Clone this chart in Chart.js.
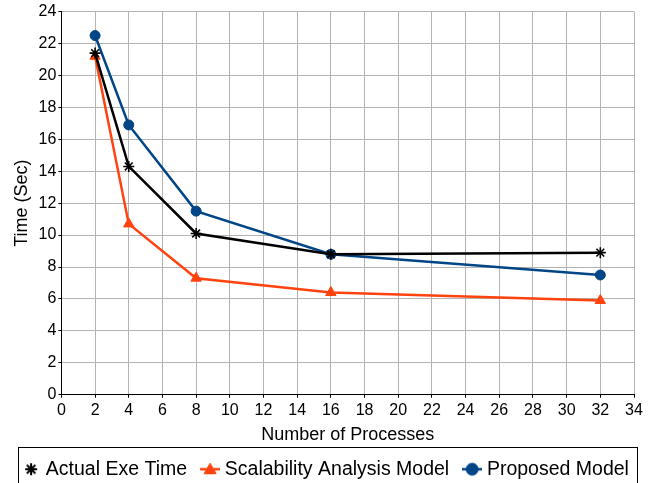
<!DOCTYPE html>
<html><head><meta charset="utf-8">
<script src="https://cdn.jsdelivr.net/npm/chart.js@4/dist/chart.umd.min.js"></script>
<style>html,body{margin:0;padding:0;background:#fff}#wrap{width:659px;height:483px;position:relative}</style>
</head><body><div id="wrap"><canvas id="c"></canvas></div>
<script>
const processes = [2, 4, 8, 16, 32];
const actualExeTime = [21.4, 14.3, 10.1, 8.8, 8.9];
const scalabilityModel = [21.2, 10.7, 7.3, 6.4, 5.9];
const proposedModel = [22.5, 16.9, 11.5, 8.8, 7.5];
const seriesNames = ['Actual Exe Time', 'Scalability Analysis Model', 'Proposed Model'];
const seriesColors = ['#000000', '#ff420e', '#004586'];
const seriesMarkers = ['star', 'triangle', 'circle'];
const xTitle = 'Number of Processes';
const yTitle = 'Time (Sec)';

const FONT = "'Liberation Sans', Arial, sans-serif";
const pts = arr => processes.map((x, i) => ({x: x, y: arr[i]}));

function legendIcon(style, color, withLine) {
  const cv = document.createElement('canvas');
  cv.width = 20; cv.height = 20;
  const ctx = cv.getContext('2d');
  ctx.strokeStyle = color; ctx.fillStyle = color;
  if (withLine) {
    ctx.lineWidth = 2.5;
    ctx.beginPath(); ctx.moveTo(0, 10); ctx.lineTo(20, 10); ctx.stroke();
  }
  const r = style === 'triangle' ? 7 : 6;
  ctx.lineWidth = style === 'star' ? 2 : 1;
  Chart.helpers.drawPoint(ctx, {pointStyle: style, radius: r, borderWidth: ctx.lineWidth, rotation: 0}, 10, style === 'triangle' ? 11 : 10);
  return cv;
}
const legendIcons = [legendIcon('star', seriesColors[0], false), legendIcon('triangle', seriesColors[1], true), legendIcon('circle', seriesColors[2], true)];

const legendBox = {
  id: 'legendBox',
  afterDraw(chart) {
    const lg = chart.legend;
    if (!lg || !lg.legendHitBoxes || !lg.legendHitBoxes.length) return;
    const hb = lg.legendHitBoxes;
    const l = Math.min(...hb.map(h => h.left)), r = Math.max(...hb.map(h => h.left + h.width));
    const ctx = chart.ctx;
    ctx.save();
    ctx.strokeStyle = '#000';
    ctx.lineWidth = 1;
    const x0 = Math.round(l - 8) + 0.5, x1 = Math.round(r + 8) + 0.5, y0 = Math.round(hb[0].top - 13) + 0.5;
    ctx.strokeRect(x0, y0, x1 - x0, 60);
    ctx.restore();
  }
};

new Chart(document.getElementById('c'), {
  type: 'line',
  data: {
    datasets: [
      {label: seriesNames[0], data: pts(actualExeTime), borderColor: seriesColors[0], backgroundColor: seriesColors[0],
       borderWidth: 2.5, pointStyle: seriesMarkers[0], pointRadius: 5.5, pointBorderWidth: 1.6, tension: 0},
      {label: seriesNames[1], data: pts(scalabilityModel), borderColor: seriesColors[1], backgroundColor: seriesColors[1],
       borderWidth: 2.5, pointStyle: seriesMarkers[1], pointRadius: 6, pointBorderWidth: 1, tension: 0},
      {label: seriesNames[2], data: pts(proposedModel), borderColor: seriesColors[2], backgroundColor: seriesColors[2],
       borderWidth: 2.5, pointStyle: seriesMarkers[2], pointRadius: 5, pointBorderWidth: 1, tension: 0}
    ]
  },
  options: {
    responsive: true,
    maintainAspectRatio: false,
    animation: false,
    layout: {padding: {left: 4, right: 8, top: 11, bottom: -6}},
    plugins: {
      tooltip: {enabled: false},
      legend: {
        position: 'bottom',
        labels: {
          usePointStyle: true, boxWidth: 10, boxHeight: 10, padding: 18,
          color: '#000', font: {family: FONT, size: 19.5},
          generateLabels: chart => chart.data.datasets.map((ds, i) => ({
            text: ds.label, fillStyle: ds.backgroundColor, strokeStyle: ds.borderColor,
            lineWidth: 0, pointStyle: legendIcons[i], hidden: false, datasetIndex: i, fontColor: '#000'
          }))
        }
      }
    },
    scales: {
      x: {
        type: 'linear', min: 0, max: 34,
        afterFit: s => { s.paddingRight = 25; },
        ticks: {stepSize: 2, color: '#000', font: {family: FONT, size: 16}, padding: 3, maxRotation: 0},
        grid: {color: '#b3b3b3', tickColor: '#000', tickLength: 3},
        border: {color: '#000', width: 1},
        title: {display: true, text: xTitle, color: '#000', font: {family: FONT, size: 18}, padding: {top: 1, bottom: -4}}
      },
      y: {
        min: 0, max: 24,
        ticks: {stepSize: 1, color: '#000', font: {family: FONT, size: 16}, padding: 2,
          callback: v => (v % 2 === 0 ? v : '')},
        grid: {color: c => (c.tick && c.tick.value % 2 === 0 ? '#b3b3b3' : '#dddddd'),
          tickColor: c => (c.tick && c.tick.value % 2 === 0 ? '#000' : 'rgba(0,0,0,0)'), tickLength: 3},
        border: {color: '#000', width: 1},
        title: {display: true, text: yTitle, color: '#000', font: {family: FONT, size: 18}, padding: {top: 7, bottom: 4}}
      }
    }
  },
  plugins: [legendBox]
});
</script>
</body></html>
